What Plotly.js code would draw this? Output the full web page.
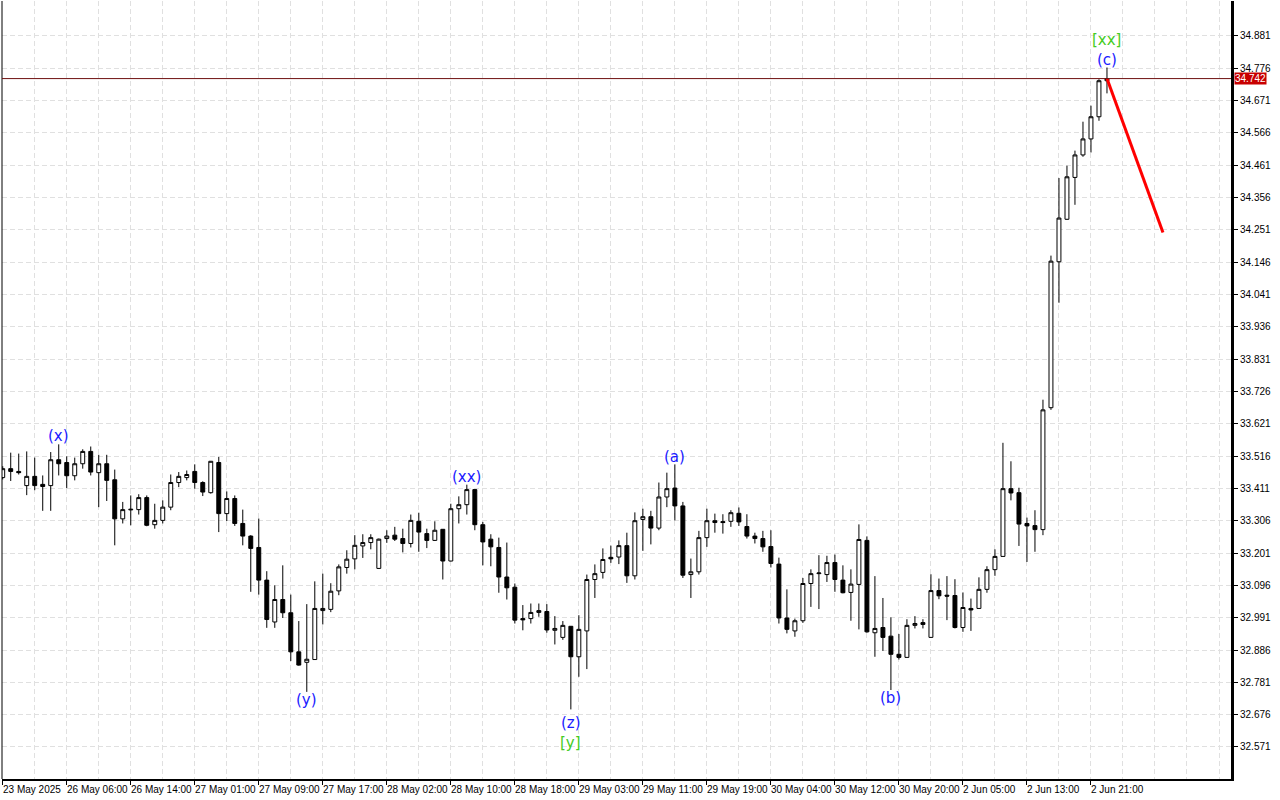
<!DOCTYPE html>
<html><head><meta charset="utf-8">
<script src="https://cdn.plot.ly/plotly-3.0.1.min.js"></script>
<style>html,body{margin:0;padding:0;background:#fff;}#chart{width:1280px;height:800px;}</style>
</head><body><div id="chart"></div>
<script>
// Hourly candles, 23 May 2025 .. 2 Jun 2025
const opens = [33.446,33.475,33.466,33.420,33.450,33.424,33.420,33.504,33.495,33.452,
33.491,33.531,33.462,33.491,33.439,33.312,33.341,33.342,33.381,33.293,
33.307,33.350,33.430,33.446,33.466,33.430,33.397,33.495,33.329,33.378,
33.297,33.256,33.219,33.113,32.977,33.050,33.007,32.880,32.846,32.855,
33.014,33.018,33.078,33.154,33.182,33.224,33.235,33.151,33.248,33.259,
33.248,33.232,33.304,33.264,33.242,33.278,33.175,33.345,33.358,33.407,
33.293,33.246,33.219,33.123,33.090,32.988,32.988,33.008,33.011,32.950,
32.927,32.963,32.864,32.948,33.115,33.138,33.187,33.188,33.225,33.127,
33.310,33.319,33.282,33.383,33.412,33.354,33.131,33.140,33.251,33.306,
33.303,33.304,33.330,33.287,33.256,33.248,33.222,33.165,32.990,32.948,
32.981,33.102,33.134,33.131,33.170,33.113,33.073,33.099,33.242,32.942,
32.959,32.931,32.872,32.862,32.966,32.975,32.927,33.079,33.064,33.063,
32.959,33.021,33.021,33.083,33.147,33.190,33.410,33.397,33.297,33.290,
33.277,33.673,34.147,34.285,34.421,34.494,34.546,34.618,34.735];
const highs = [33.483,33.527,33.524,33.531,33.511,33.453,33.529,33.554,33.515,33.511,
33.538,33.547,33.520,33.520,33.472,33.367,33.388,33.392,33.388,33.361,
33.372,33.456,33.464,33.469,33.489,33.434,33.500,33.513,33.401,33.388,
33.342,33.259,33.313,33.142,33.096,33.161,33.066,32.980,33.035,33.109,
33.134,33.103,33.164,33.210,33.259,33.262,33.262,33.248,33.275,33.286,
33.280,33.326,33.332,33.280,33.304,33.279,33.361,33.385,33.423,33.408,
33.302,33.262,33.251,33.235,33.102,33.032,33.037,33.037,33.035,32.996,
32.980,32.964,32.999,33.131,33.164,33.216,33.225,33.242,33.267,33.333,
33.345,33.338,33.430,33.462,33.489,33.367,33.183,33.273,33.345,33.329,
33.327,33.340,33.349,33.327,33.267,33.273,33.275,33.186,33.083,32.988,
33.120,33.148,33.194,33.192,33.196,33.161,33.148,33.294,33.255,33.126,
33.055,32.992,32.938,32.986,32.996,32.986,33.132,33.118,33.126,33.116,
33.073,33.053,33.122,33.158,33.213,33.559,33.499,33.413,33.316,33.340,
33.699,34.167,34.419,34.459,34.508,34.602,34.654,34.740,34.778];
const lows = [33.440,33.435,33.456,33.389,33.405,33.338,33.338,33.453,33.412,33.437,
33.475,33.453,33.350,33.370,33.226,33.297,33.291,33.326,33.288,33.280,
33.297,33.340,33.415,33.437,33.410,33.386,33.394,33.269,33.305,33.289,
33.226,33.075,33.066,32.958,32.958,32.990,32.850,32.835,32.750,32.854,
32.969,33.009,33.064,33.134,33.148,33.185,33.213,33.149,33.234,33.240,
33.203,33.219,33.205,33.217,33.240,33.115,33.174,33.297,33.326,33.275,
33.161,33.158,33.072,33.050,32.972,32.950,32.972,32.994,32.942,32.904,
32.919,32.693,32.799,32.824,33.055,33.118,33.169,33.165,33.104,33.115,
33.208,33.229,33.275,33.350,33.307,33.120,33.055,33.131,33.221,33.267,
33.264,33.286,33.289,33.248,33.232,33.205,33.154,32.972,32.940,32.929,
32.974,33.026,33.019,33.107,33.075,33.070,32.981,32.953,32.942,32.864,
32.883,32.756,32.855,32.861,32.956,32.956,32.926,33.051,32.983,32.956,
32.945,32.948,33.020,33.072,33.127,33.189,33.372,33.224,33.172,33.205,
33.259,33.666,34.014,34.283,34.332,34.488,34.502,34.605,34.694];
const closes = [33.475,33.466,33.462,33.450,33.420,33.417,33.504,33.491,33.452,33.491,
33.531,33.464,33.491,33.437,33.312,33.342,33.343,33.381,33.291,33.307,
33.350,33.430,33.450,33.456,33.430,33.399,33.499,33.329,33.378,33.297,
33.256,33.216,33.113,32.985,33.050,33.007,32.880,32.837,32.856,33.021,
33.021,33.077,33.156,33.181,33.226,33.235,33.251,33.246,33.256,33.246,
33.232,33.307,33.269,33.242,33.275,33.175,33.345,33.358,33.407,33.293,
33.237,33.221,33.123,33.088,32.983,32.984,33.008,33.014,32.951,32.956,
32.966,32.864,32.953,33.115,33.134,33.180,33.182,33.225,33.127,33.306,
33.319,33.282,33.383,33.410,33.354,33.129,33.140,33.251,33.306,33.300,
33.300,33.332,33.302,33.256,33.248,33.221,33.167,32.990,32.953,32.981,
33.102,33.134,33.136,33.170,33.115,33.072,33.100,33.245,32.945,32.956,
32.927,32.872,32.862,32.966,32.972,32.969,33.079,33.062,33.061,32.959,
33.024,33.016,33.083,33.147,33.190,33.410,33.396,33.295,33.289,33.277,
33.666,34.149,34.289,34.423,34.494,34.546,34.618,34.735,34.742];

// time axis labels (bar index -> text)
const xTickBars = [0,8,16,24,32,40,48,56,64,72,80,88,96,104,112,120,128,136];
const xTickText = ["23 May 2025","26 May 06:00","26 May 14:00","27 May 01:00","27 May 09:00",
"27 May 17:00","28 May 02:00","28 May 10:00","28 May 18:00","29 May 03:00","29 May 11:00",
"29 May 19:00","30 May 04:00","30 May 12:00","30 May 20:00","2 Jun 05:00","2 Jun 13:00","2 Jun 21:00"];

// price axis ticks
const yTickVals = [32.571,32.676,32.781,32.886,32.991,33.096,33.201,33.306,33.411,33.516,
33.621,33.726,33.831,33.936,34.041,34.146,34.251,34.356,34.461,34.566,34.671,34.776,34.881];

// wave labels
const waveText  = ["(x)","(y)","(xx)","(z)","[y]","(a)","(b)","(c)","[xx]"];
const waveBar   = [7,38,58,71,71,84,111,138,138];
const wavePrice = [33.581,32.722,33.447,32.649,32.584,33.513,32.730,34.803,34.868];
const waveKind  = ["minor","minor","minor","minor","major","minor","minor","minor","major"];

// forecast line
const forecastBars   = [138,145];
const forecastPrices = [34.742,34.242];

const bars = opens.map((_, i) => i);
const lastClose = closes[closes.length - 1];

const BLUE = '#1a1aff', GREEN = '#44cc22';
const GRID = '#e0e0e0';

const data = [
  {type:'candlestick', x:bars, open:opens, high:highs, low:lows, close:closes,
   increasing:{line:{color:'#000', width:1}, fillcolor:'#ffffff'},
   decreasing:{line:{color:'#000', width:1}, fillcolor:'#000000'},
   whiskerwidth:0, hoverinfo:'none', showlegend:false},
  {type:'scatter', mode:'lines', x:forecastBars, y:forecastPrices,
   line:{color:'#ff0000', width:3}, hoverinfo:'none', showlegend:false}
];

const annotations = [];
xTickBars.forEach((b, i) => annotations.push({
  xref:'x', yref:'paper', x:b, y:0, xanchor:'left', yanchor:'top', yshift:-3, xshift:-2,
  text:xTickText[i], showarrow:false, font:{size:10, color:'#000', family:'Liberation Sans, Arial, sans-serif'}
}));
waveText.forEach((t, i) => annotations.push({
  xref:'x', yref:'y', x:waveBar[i], y:wavePrice[i], xanchor:'center', yanchor:'middle',
  text:t, showarrow:false,
  font:{size:15, family:'DejaVu Sans, sans-serif', color: waveKind[i] === 'major' ? GREEN : BLUE}
}));
annotations.push({
  xref:'paper', yref:'y', x:1, y:lastClose, xanchor:'left', yanchor:'middle', xshift:3,
  text:lastClose.toFixed(3), showarrow:false, bgcolor:'#c80000', borderpad:0,
  font:{size:10, color:'#ffffff', family:'Liberation Sans, Arial, sans-serif'}
});

const layout = {
  width:1280, height:800,
  margin:{l:2, r:49, t:1, b:21, pad:0},
  paper_bgcolor:'#ffffff', plot_bgcolor:'#ffffff',
  showlegend:false,
  font:{family:'Liberation Sans, Arial, sans-serif', size:10, color:'#000'},
  xaxis:{
    range:[-0.09, 153.5], rangeslider:{visible:false}, fixedrange:true,
    tickmode:'array', tickvals:xTickBars, showticklabels:false,
    ticks:'outside', ticklen:4, tickwidth:1, tickcolor:'#000',
    showgrid:true, gridcolor:GRID, griddash:'5px,3px', gridwidth:1,
    minor:{tickmode:'linear', tick0:0, dtick:4, showgrid:true, gridcolor:GRID, griddash:'5px,3px', ticks:''},
    showline:true, linecolor:'#000', linewidth:2, zeroline:false
  },
  yaxis:{
    side:'right', range:[32.467, 34.994], fixedrange:true,
    tickmode:'array', tickvals:yTickVals, ticktext:yTickVals.map(v => v.toFixed(3)),
    ticks:'outside', ticklen:4, tickwidth:1, tickcolor:'#000',
    tickfont:{size:10, color:'#000'},
    showgrid:true, gridcolor:GRID, griddash:'5px,3px', gridwidth:1,
    showline:true, linecolor:'#000', linewidth:3, zeroline:false
  },
  shapes:[
    {type:'line', xref:'paper', yref:'paper', x0:0, x1:0, y0:0, y1:1, line:{color:'#000', width:1}},
    {type:'line', xref:'paper', yref:'y', x0:0, x1:1, y0:lastClose, y1:lastClose, line:{color:'#6e1010', width:1}}
  ],
  annotations: annotations
};

Plotly.newPlot('chart', data, layout, {staticPlot:true, displayModeBar:false});
</script></body></html>
